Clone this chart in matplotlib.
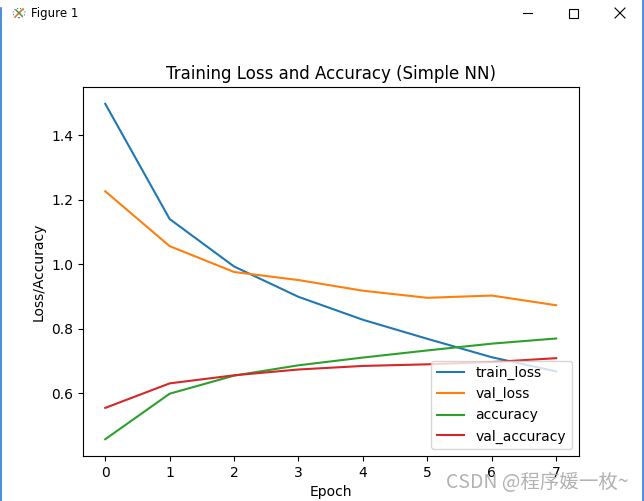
import matplotlib
matplotlib.use("Agg")
import matplotlib.pyplot as plt
from matplotlib.lines import Line2D

# values
epochs = [0, 1, 2, 3, 4, 5, 6, 7]
train_loss = [1.497, 1.140, 0.993, 0.899, 0.828, 0.769, 0.712, 0.668]
val_loss = [1.226, 1.056, 0.976, 0.951, 0.918, 0.896, 0.903, 0.873]
accuracy = [0.458, 0.599, 0.655, 0.687, 0.711, 0.733, 0.754, 0.770]
val_accuracy = [0.555, 0.631, 0.656, 0.674, 0.685, 0.690, 0.697, 0.709]

W, H = 644, 501


def main():
    fig = plt.figure(figsize=(W / 100, H / 100), dpi=100)

    # window frame: title bar text, buttons and thin blue side borders
    fig.text(31 / W, 1 - 14 / H, "Figure 1", fontsize=8.5, va="center", ha="left")
    # little app icon
    fig.add_artist(plt.Circle((19 / W, 1 - 13 / H), 6 / W, transform=fig.transFigure,
                              fill=False, ls=":", lw=0.8, color="#4a6fa5"))
    fig.add_artist(Line2D([15 / W, 23 / W], [1 - 17 / H, 1 - 9 / H], color="#e07b20", lw=1.2))
    fig.add_artist(Line2D([16 / W, 22 / W], [1 - 10 / H, 1 - 16 / H], color="#3a8a3a", lw=1.0))
    # minimise
    fig.add_artist(Line2D([523 / W, 532 / W], [1 - 13 / H, 1 - 13 / H], color="black", lw=0.8))
    # maximise
    fig.add_artist(plt.Rectangle((569 / W, 1 - 18 / H), 9 / W, 9 / H, transform=fig.transFigure,
                                 fill=False, lw=0.8, color="black"))
    # close
    fig.add_artist(Line2D([615 / W, 625 / W], [1 - 8 / H, 1 - 18 / H], color="black", lw=0.8))
    fig.add_artist(Line2D([615 / W, 625 / W], [1 - 18 / H, 1 - 8 / H], color="black", lw=0.8))
    fig.add_artist(Line2D([0.6 / W, 0.6 / W], [0, 1 - 8 / H], color="#2b7bd3", lw=1.2))
    fig.add_artist(Line2D([642.5 / W, 642.5 / W], [0, 1], color="#2b7bd3", lw=1.2))

    ax = fig.add_axes([82.7 / W, (H - 456) / H, 496 / W, 369 / H])
    ax.plot(epochs, train_loss, label="train_loss")
    ax.plot(epochs, val_loss, label="val_loss")
    ax.plot(epochs, accuracy, label="accuracy")
    ax.plot(epochs, val_accuracy, label="val_accuracy")
    ax.set_title("Training Loss and Accuracy (Simple NN)")
    ax.set_xlabel("Epoch")
    ax.set_ylabel("Loss/Accuracy")
    ax.legend(loc="lower right")

    # CSDN watermark
    fig.text(446 / W, 1 - 482 / H, "CSDN @程序媛一枚~", fontsize=14, color="#aaaaaa",
             va="center", ha="left", family=["Noto Sans CJK SC", "DejaVu Sans"], alpha=0.9)

    fig.savefig("out.png", dpi=100)


if __name__ == "__main__":
    main()
